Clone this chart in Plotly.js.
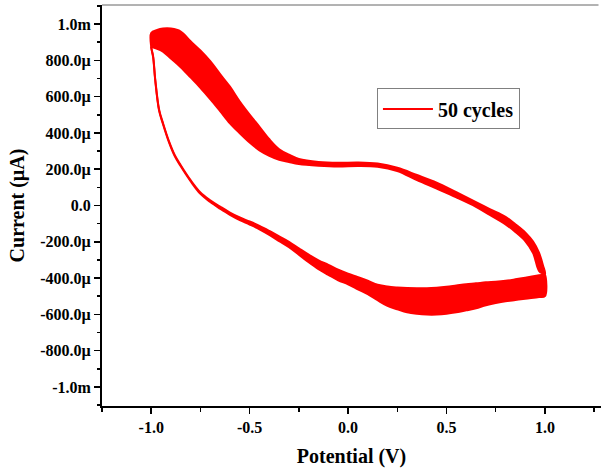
<!DOCTYPE html>
<html>
<head>
<meta charset="utf-8">
<script src="https://cdn.plot.ly/plotly-3.0.1.min.js"></script>
<style>html,body{margin:0;padding:0;background:#fff;}#chart{width:602px;height:473px;}</style>
</head>
<body>
<div id="chart"></div>
<script>
// Potential (V) grid of the forward (upper) branch, -1.0 V -> 1.0 V
const upperPotential = [-1.0,-0.97,-0.94,-0.9,-0.85,-0.8,-0.75,-0.7,-0.65,-0.6,-0.55,-0.5,-0.45,-0.4,-0.35,-0.3,-0.25,-0.15,-0.05,0.05,0.15,0.25,0.35,0.45,0.55,0.65,0.72,0.8,0.85,0.9,0.94,0.97,0.99,1.0];
// Current (µA) on the forward branch: the two edges of the 50-cycle band
const upperCurrentFirst = [950,967,975,975,959,905,854,795,724,655,573,501,434,365,310,280,257,240,235,237,231,208,168,126,73,18,-20,-63,-103,-148,-199,-260,-329,-379];
const upperCurrentLast = [873,864,848,810,762,706,649,586,520,453,398,347,304,274,252,239,228,219,215,218,214,190,140,93,45,-7,-52,-104,-146,-196,-262,-360,-376,-382];
// Potential (V) grid of the reverse (lower) branch, 1.0 V -> -1.0 V
const lowerPotential = [1.0,0.97,0.9,0.85,0.8,0.75,0.7,0.65,0.6,0.55,0.5,0.45,0.4,0.35,0.3,0.25,0.2,0.15,0.1,0.05,0.0,-0.05,-0.1,-0.15,-0.2,-0.25,-0.3,-0.35,-0.4,-0.45,-0.5,-0.55,-0.6,-0.65,-0.7,-0.75,-0.8,-0.85,-0.88,-0.91,-0.94,-0.96,-0.98,-0.99,-1.0];
const lowerCurrentFirst = [-379,-384,-398,-407,-415,-420,-423,-429,-434,-441,-448,-453,-456,-456,-455,-452,-447,-437,-415,-395,-376,-354,-327,-302,-271,-236,-200,-170,-140,-112,-88,-66,-39,-6,29,72,140,222,277,355,454,529,700,821,875];
const lowerCurrentLast = [-500,-505,-514,-521,-528,-538,-550,-566,-578,-589,-597,-601,-601,-597,-589,-572,-553,-522,-489,-462,-434,-412,-382,-351,-313,-271,-230,-196,-162,-131,-105,-81,-52,-18,19,64,134,216,271,349,448,523,694,815,870];

const seriesName = '50 cycles';
const yTickValues = [-1000,-800,-600,-400,-200,0,200,400,600,800,1000];
const yTickLabels = ['-1.0m','-800.0\u00b5','-600.0\u00b5','-400.0\u00b5','-200.0\u00b5','0.0','200.0\u00b5','400.0\u00b5','600.0\u00b5','800.0\u00b5','1.0m'];
const xTickValues = [-1.0,-0.5,0.0,0.5,1.0];
const xTickLabels = ['-1.0','-0.5','0.0','0.5','1.0'];

const RED = '#ff0000';
const FONT = 'Liberation Serif, Times New Roman, serif';

const loopFirstX = upperPotential.concat(lowerPotential.slice(1), [upperPotential[0]]);
const loopFirstY = upperCurrentFirst.concat(lowerCurrentFirst.slice(1), [upperCurrentFirst[0]]);
const loopLastX = upperPotential.concat(lowerPotential, [upperPotential[0]]);
const loopLastY = upperCurrentLast.concat(lowerCurrentLast, [upperCurrentLast[0]]);

const traces = [
  {x: loopFirstX, y: loopFirstY, type: 'scatter', mode: 'lines', name: seriesName,
   line: {color: RED, width: 2, shape: 'spline', smoothing: 1}, showlegend: true, hoverinfo: 'skip'},
  {x: loopLastX, y: loopLastY, type: 'scatter', mode: 'lines', name: seriesName,
   line: {color: RED, width: 2, shape: 'spline', smoothing: 1}, fill: 'tonexty', fillcolor: RED, showlegend: false, hoverinfo: 'skip'}
];

const layout = {
  width: 602, height: 473,
  margin: {l: 102, r: 1, t: 5, b: 67},
  paper_bgcolor: '#ffffff', plot_bgcolor: '#ffffff',
  font: {family: FONT, color: '#000', size: 16, weight: 'bold'},
  showlegend: true,
  legend: {x: 0.551, y: 0.792, xanchor: 'left', yanchor: 'top', itemwidth: 50,
    bgcolor: '#ffffff', bordercolor: '#808080', borderwidth: 1,
    font: {family: FONT, size: 20, color: '#000', weight: 'bold'}},
  xaxis: {
    range: [-1.25, 1.285], tickmode: 'array', tickvals: xTickValues, ticktext: xTickLabels,
    showgrid: false, zeroline: false, showline: true, linecolor: '#000', linewidth: 2,
    ticks: 'outside', ticklen: 6, tickwidth: 1.5, tickcolor: '#000',
    tickfont: {family: FONT, size: 16, color: '#000', weight: 'bold'},
    minor: {dtick: 0.25, tick0: 0, ticks: 'outside', ticklen: 4, tickwidth: 1.5, tickcolor: '#000', showgrid: false},
    title: {text: 'Potential (V)', font: {family: FONT, size: 20, color: '#000', weight: 'bold'}, standoff: 14}
  },
  yaxis: {
    range: [-1105, 1105], tickmode: 'array', tickvals: yTickValues, ticktext: yTickLabels,
    showgrid: false, zeroline: false, showline: true, linecolor: '#000', linewidth: 2,
    ticks: 'outside', ticklen: 6, tickwidth: 1.5, tickcolor: '#000',
    tickfont: {family: FONT, size: 16, color: '#000', weight: 'bold'},
    minor: {dtick: 100, tick0: 0, ticks: 'outside', ticklen: 3, tickwidth: 1.5, tickcolor: '#000', showgrid: false},
    title: {text: 'Current (\u00b5A)', font: {family: FONT, size: 20, color: '#000', weight: 'bold'}, standoff: 10}
  },
  shapes: [
    {type: 'line', xref: 'paper', yref: 'paper', x0: 0, x1: 0.995, y0: 1, y1: 1,
     line: {color: '#666', width: 1}}
  ]
};

Plotly.newPlot('chart', traces, layout, {staticPlot: true, displayModeBar: false});
</script>
</body>
</html>
